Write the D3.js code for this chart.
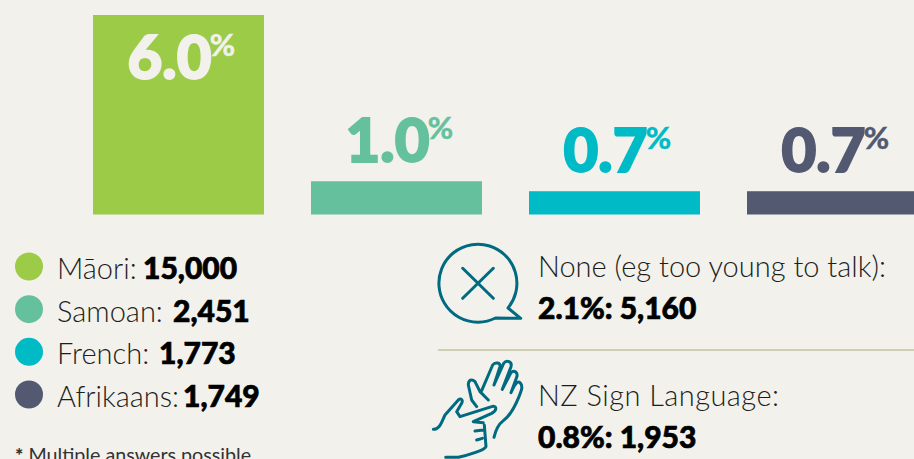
<!DOCTYPE html>
<html>
  <head>
    <meta charset="utf-8">
    <style>
      html, body { margin: 0; padding: 0; background: #f2f1ec; overflow: hidden; }
      svg { display: block; font-family: Lato, sans-serif; }
      .light { font-weight: 300; fill: #1d1d1b; }
      .heavy { font-weight: 900; fill: #000; stroke: #000; stroke-width: 0.7; }
    </style>
    <script src="https://d3js.org/d3.v7.min.js"></script>
  </head>
  <body>
    <svg id="chart" width="914" height="459"></svg>
    <script>
      var languages = ["Māori", "Samoan", "French", "Afrikaans"];
      var shares = [6.0, 1.0, 0.7, 0.7];
      var counts = ["15,000", "2,451", "1,773", "1,749"];
      var colours = ["#9ccb48", "#65c19d", "#00bac6", "#535971"];
      var otherLabels = ["None (eg too young to talk):", "NZ Sign Language:"];
      var otherValues = ["2.1%: 5,160", "0.8%: 1,953"];

      var svg = d3.select("#chart");

      var x = d3.scaleBand().domain(languages).range([93, 93 + 171 * 4 + 47 * 3]).paddingInner(47 / 218).paddingOuter(0);
      var y = d3.scaleLinear().domain([0, 6]).range([214.5, 15]);

      svg.selectAll("rect.bar")
        .data(languages)
        .enter()
        .append("rect")
        .attr("class", "bar")
        .attr("x", function(d) { return x(d); })
        .attr("y", function(d, i) { return y(shares[i]); })
        .attr("width", x.bandwidth())
        .attr("height", function(d, i) { return y(0) - y(shares[i]); })
        .attr("fill", function(d, i) { return colours[i]; });

      // value labels, first one sits inside its bar
      var labels = svg.selectAll("g.value")
        .data(languages)
        .enter()
        .append("g")
        .attr("class", "value")
        .attr("transform", function(d, i) {
          var base = i == 0 ? 79 : y(shares[i]) - 19;
          return "translate(" + (x(d) + x.bandwidth() / 2) + "," + base + ")";
        })
        .attr("fill", function(d, i) { return i == 0 ? "#f2f1ec" : colours[i]; })
        .attr("stroke", function(d, i) { return i == 0 ? "#f2f1ec" : colours[i]; });

      labels.append("text")
        .attr("x", -9)
        .attr("text-anchor", "middle")
        .attr("font-size", 60)
        .attr("font-weight", 900)
        .attr("stroke-width", 2)
        .text(function(d, i) { return shares[i].toFixed(1); });

      labels.append("text")
        .attr("x", 44)
        .attr("y", -23)
        .attr("text-anchor", "middle")
        .attr("font-size", 31)
        .attr("font-weight", 700)
        .attr("stroke-width", 0.5)
        .text("%");

      // legend
      var legendY = d3.scalePoint().domain(languages).range([267, 395]);
      var countX = [143, 173, 159, 183]; // where the bold numbers start

      svg.selectAll("circle.key")
        .data(languages)
        .enter()
        .append("circle")
        .attr("class", "key")
        .attr("cx", 29)
        .attr("cy", function(d) { return legendY(d) - 0.5; })
        .attr("r", 14)
        .attr("fill", function(d, i) { return colours[i]; });

      var legendText = svg.selectAll("text.legend")
        .data(languages)
        .enter()
        .append("text")
        .attr("class", "legend")
        .attr("x", 57)
        .attr("y", function(d) { return legendY(d) + 12; })
        .attr("font-size", 29);

      legendText.append("tspan").attr("class", "light").text(function(d) { return d + ":"; });
      legendText.append("tspan").attr("class", "heavy")
        .attr("x", function(d, i) { return countX[i]; })
        .attr("font-size", 30)
        .text(function(d, i) { return counts[i]; });

      var note = svg.append("text")
        .attr("x", 15)
        .attr("y", 462)
        .attr("font-size", 19.7)
        .attr("fill", "#333");
      note.append("tspan").attr("font-weight", 900).text("*");
      note.append("tspan").attr("font-weight", 400).text(" Multiple answers possible");

      // right hand block
      [0, 1].forEach(function(i) {
        svg.append("text").attr("class", "light")
          .attr("x", 538).attr("y", 277 + i * 129)
          .attr("font-size", 29)
          .attr("textLength", i == 0 ? 348 : 241)
          .text(otherLabels[i]);
        svg.append("text").attr("class", "heavy")
          .attr("x", 538).attr("y", 319 + i * 129)
          .attr("font-size", 30).text(otherValues[i]);
      });

      svg.append("line")
        .attr("x1", 438).attr("x2", 914)
        .attr("y1", 350).attr("y2", 350)
        .attr("stroke", "#cfcfb8").attr("stroke-width", 2);

      // speech bubble icon
      svg.append("path")
        .attr("d", "M495.5,318A39,39 0 1 1 508,308L520.7,318.3ZM462.7,268.3L493.3,298.3M493.3,268.3L462.7,298.3")
        .attr("fill", "none")
        .attr("stroke", "#006a80")
        .attr("stroke-width", 3)
        .attr("stroke-linecap", "round")
        .attr("stroke-linejoin", "round");

      // signing hands icon, traced at 3x
      svg.append("g")
        .attr("transform", "translate(425,350) scale(0.3333)")
        .append("path")
        .attr("d", "M207,262C212,240 218,225 235,212C258,195 270,170 282,140C290,120 295,108 285,98C278,92 270,100 258,128"
          + "M258,128L275,82C280,68 268,58 258,68L232,118"
          + "M232,118L258,50C262,35 245,28 236,40L207,105"
          + "M207,105L225,50C228,38 210,35 203,45L170,122"
          + "M190,150L165,125L150,95C140,85 130,90 130,105L140,150L155,170"
          + "M25,238C45,238 50,215 60,195L100,150C108,143 115,150 110,160L95,185L105,200L200,170C215,165 218,180 200,190L145,215"
          + "M145,215L175,218M150,243L175,240M155,270L172,265"
          + "M178,225L183,290C180,300 130,315 100,322L62,322")
        .attr("fill", "none")
        .attr("stroke", "#006a80")
        .attr("stroke-width", 9)
        .attr("stroke-linecap", "round")
        .attr("stroke-linejoin", "round");
    </script>
  </body>
</html>
